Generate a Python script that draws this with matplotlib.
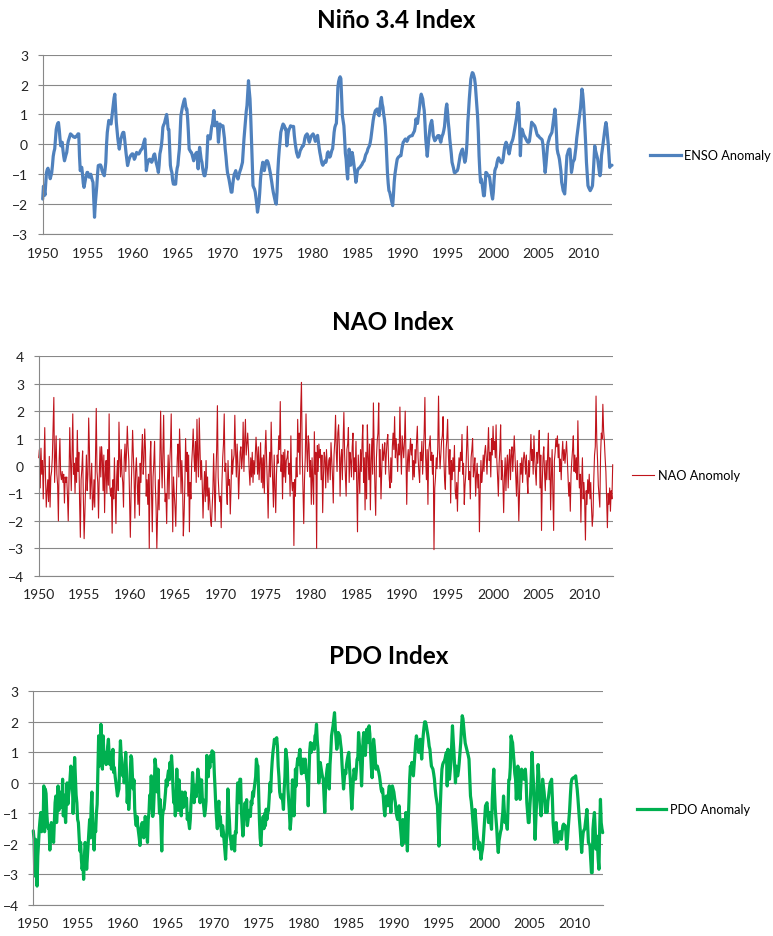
import matplotlib
matplotlib.use("Agg")
import matplotlib.pyplot as plt
from matplotlib.lines import Line2D
import numpy as np

plt.rcParams['font.family'] = ['Lato', 'DejaVu Sans']

# ---------------- data (monthly, Jan 1950 ... Mar 2013) ----------------
start_year = 1950
tick_years = list(range(1950, 2011, 5))

enso_rows = [
    [-1.83, -1.4, -1.55, -1.7, -1.3, -0.95, -0.85, -0.8, -0.9, -1.0, -1.15, -1.05],
    [-0.95, -0.7, -0.4, -0.25, -0.15, 0.2, 0.5, 0.62, 0.7, 0.73, 0.5, 0.2],
    [-0.05, 0.05, 0.07, -0.2, -0.4, -0.55, -0.45, -0.35, -0.27, -0.05, 0.1, 0.18],
    [0.25, 0.35, 0.33, 0.3, 0.28, 0.25, 0.24, 0.23, 0.25, 0.28, 0.3, 0.35],
    [0.35, -0.4, -0.88, -0.8, -0.77, -1.0, -1.3, -1.44, -1.3, -1.16, -1.05, -0.94],
    [-0.94, -1.05, -1.1, -1.05, -1.0, -1.1, -1.2, -1.27, -1.9, -2.44, -2.0, -1.72],
    [-1.4, -1.0, -0.71, -0.7, -0.69, -0.69, -0.75, -0.88, -0.95, -1.0, -1.05, -0.85],
    [-0.6, 0.0, 0.4, 0.6, 0.8, 0.75, 0.7, 0.68, 0.9, 1.1, 1.35, 1.55],
    [1.68, 1.2, 0.74, 0.46, 0.2, 0.0, -0.16, 0.0, 0.18, 0.25, 0.35, 0.4],
    [0.4, 0.2, -0.05, -0.3, -0.5, -0.71, -0.6, -0.5, -0.43, -0.38, -0.35, -0.32],
    [-0.32, -0.4, -0.5, -0.45, -0.35, -0.27, -0.3, -0.32, -0.32, -0.28, -0.22, -0.18],
    [-0.16, -0.1, 0.0, 0.1, 0.18, -0.3, -0.88, -0.7, -0.6, -0.55, -0.5, -0.5],
    [-0.55, -0.6, -0.55, -0.45, -0.35, -0.32, -0.45, -0.6, -0.7, -0.8, -0.94, -0.7],
    [-0.32, -0.2, -0.05, 0.2, 0.57, 0.65, 0.7, 0.8, 0.9, 1.0, 0.8, 0.5],
    [0.5, -0.1, -0.7, -0.85, -0.94, -1.2, -1.33, -1.33, -1.3, -1.33, -1.0, -0.8],
    [-0.7, -0.4, -0.16, 0.4, 0.96, 1.1, 1.24, 1.35, 1.45, 1.52, 1.35, 1.18],
    [1.18, 0.85, 0.4, -0.16, -0.2, -0.25, -0.27, -0.35, -0.45, -0.55, -0.45, -0.35],
    [-0.3, -0.27, -0.5, -0.82, -0.3, -0.1, -0.3, -0.5, -0.6, -0.8, -0.95, -1.05],
    [-1.05, -0.9, -0.77, -0.2, 0.29, 0.25, 0.2, 0.18, 0.4, 0.6, 0.68, 0.9],
    [1.13, 0.62, 0.65, 0.7, 0.74, 0.5, 0.07, 0.4, 0.68, 0.65, 0.63, 0.62],
    [0.62, 0.4, 0.2, -0.16, -0.4, -0.7, -0.94, -1.05, -1.16, -1.3, -1.45, -1.6],
    [-1.6, -1.35, -1.16, -1.0, -0.95, -0.88, -1.0, -1.1, -1.16, -1.05, -0.95, -0.88],
    [-0.8, -0.7, -0.6, -0.2, 0.18, 0.5, 0.85, 1.1, 1.3, 1.7, 2.13, 1.8],
    [1.52, 0.9, 0.18, -0.6, -1.38, -1.45, -1.5, -1.6, -1.8, -2.0, -2.27, -2.1],
    [-1.94, -1.6, -1.16, -0.9, -0.75, -0.6, -0.7, -0.88, -0.75, -0.6, -0.55, -0.55],
    [-0.6, -0.7, -0.82, -0.95, -1.1, -1.27, -1.45, -1.6, -1.72, -1.85, -1.95, -2.0],
    [-1.6, -0.94, -0.5, -0.16, 0.1, 0.4, 0.5, 0.6, 0.68, 0.65, 0.6, 0.51],
    [0.51, -0.05, 0.2, 0.4, 0.5, 0.55, 0.62, 0.6, 0.6, 0.6, 0.6, 0.3],
    [0.07, -0.1, -0.27, -0.35, -0.43, -0.4, -0.3, -0.2, -0.16, -0.1, -0.05, -0.05],
    [0.05, 0.2, 0.29, 0.32, 0.35, 0.3, 0.15, 0.07, 0.15, 0.25, 0.29, 0.32],
    [0.35, 0.3, 0.2, 0.1, 0.18, 0.25, 0.3, 0.1, -0.1, -0.27, -0.4, -0.55],
    [-0.65, -0.7, -0.65, -0.6, -0.55, -0.6, -0.5, -0.3, -0.25, -0.35, -0.43, -0.4],
    [-0.3, -0.2, -0.15, 0.1, 0.4, 0.57, 0.65, 0.7, 1.2, 1.9, 2.1, 2.2],
    [2.26, 2.2, 1.6, 0.96, 0.8, 0.62, 0.2, -0.3, -0.5, -0.9, -1.16, -0.6],
    [-0.16, -0.4, -0.7, -0.5, -0.27, -0.4, -0.6, -0.8, -1.0, -1.27, -1.1, -0.9],
    [-0.82, -0.8, -0.78, -0.75, -0.71, -0.68, -0.62, -0.58, -0.55, -0.45, -0.35, -0.3],
    [-0.25, -0.15, -0.1, -0.05, 0.05, 0.2, 0.4, 0.62, 0.8, 0.95, 1.05, 1.13],
    [1.15, 1.18, 1.18, 1.0, 0.96, 1.2, 1.45, 1.57, 1.35, 1.24, 1.0, 0.85],
    [0.6, 0.18, -0.4, -0.94, -1.3, -1.55, -1.6, -1.72, -1.85, -1.95, -2.05, -1.7],
    [-1.27, -1.0, -0.82, -0.65, -0.5, -0.45, -0.42, -0.4, -0.38, -0.38, -0.2, -0.05],
    [0.07, 0.1, 0.15, 0.18, 0.15, 0.1, 0.15, 0.23, 0.25, 0.27, 0.28, 0.29],
    [0.29, 0.35, 0.4, 0.45, 0.6, 0.85, 0.75, 0.7, 0.9, 1.1, 1.3, 1.55],
    [1.68, 1.6, 1.52, 1.3, 1.13, 0.7, 0.18, -0.1, -0.4, -0.1, 0.18, 0.4],
    [0.62, 0.72, 0.8, 0.6, 0.29, 0.2, 0.12, 0.15, 0.2, 0.25, 0.29, 0.25],
    [0.29, 0.15, 0.07, 0.2, 0.29, 0.35, 0.46, 0.6, 0.9, 1.2, 1.35, 1.1],
    [0.74, 0.5, 0.18, -0.05, -0.3, -0.6, -0.7, -0.8, -0.94, -0.95, -0.92, -0.9],
    [-0.88, -0.8, -0.65, -0.5, -0.35, -0.27, -0.2, -0.16, -0.3, -0.45, -0.6, -0.5],
    [-0.3, 0.1, 0.74, 1.1, 1.52, 1.85, 2.18, 2.3, 2.4, 2.38, 2.3, 2.2],
    [2.0, 1.63, 1.3, 0.96, 0.4, -0.38, -0.9, -1.27, -1.16, -1.3, -1.5, -1.72],
    [-1.72, -1.4, -0.94, -0.95, -1.0, -1.05, -1.05, -1.1, -1.3, -1.5, -1.7, -1.83],
    [-1.6, -1.2, -0.88, -0.8, -0.75, -0.6, -0.5, -0.45, -0.5, -0.55, -0.6, -0.62],
    [-0.6, -0.5, -0.3, -0.1, 0.0, 0.07, 0.0, -0.1, -0.2, -0.32, -0.2, -0.05],
    [0.05, 0.1, 0.18, 0.3, 0.45, 0.6, 0.74, 0.9, 1.15, 1.4, 1.2, 0.6],
    [-0.38, 0.2, 0.51, 0.45, 0.35, 0.29, 0.25, 0.2, 0.15, 0.1, 0.07, 0.07],
    [0.1, 0.3, 0.5, 0.74, 0.7, 0.68, 0.65, 0.62, 0.55, 0.45, 0.35, 0.29],
    [0.29, 0.25, 0.22, 0.2, 0.18, 0.15, 0.0, -0.3, -0.6, -0.94, -0.7, -0.4],
    [-0.1, 0.07, 0.15, 0.25, 0.3, 0.35, 0.4, 0.6, 0.8, 1.0, 1.18, 0.9],
    [0.4, -0.16, -0.3, -0.38, -0.5, -0.7, -0.9, -1.27, -1.4, -1.55, -1.6, -1.66],
    [-1.3, -0.8, -0.38, -0.3, -0.2, -0.16, -0.16, -0.5, -0.94, -0.8, -0.6, -0.55],
    [-0.5, -0.3, -0.1, 0.2, 0.4, 0.62, 0.8, 1.0, 1.2, 1.5, 1.85, 1.7],
    [1.4, 1.0, 0.51, 0.0, -0.6, -1.0, -1.38, -1.45, -1.5, -1.55, -1.5, -1.45],
    [-1.38, -1.0, -0.5, -0.05, -0.2, -0.3, -0.4, -0.5, -0.7, -0.9, -1.05, -0.9],
    [-0.38, -0.2, 0.0, 0.2, 0.4, 0.6, 0.73, 0.55, 0.29, 0.0, -0.4, -0.77],
    [-0.72, -0.7, -0.7],
]

nao_rows = [
    [0.3, 0.6, -0.8, 0.65, -0.3, 0.2, -1.2, 0.1, 1.4, -0.4, -1.5, -0.9],
    [-0.5, -1.3, 0.35, -1.5, -0.4, -0.2, 0.3, 1.4, 2.5, -0.6, 0.2, 1.1],
    [-0.3, -0.7, -2.0, 0.2, 1.0, -0.3, -0.5, -0.2, -0.6, -0.3, -1.35, -0.4],
    [-0.6, -0.4, -1.1, -2.0, -0.5, 1.4, 0.2, -0.9, 0.4, 1.9, -0.3, 0.1],
    [-1.0, 0.3, -0.6, 1.3, -0.2, 0.5, -1.3, -2.6, -0.5, -0.1, 0.55, -1.2],
    [-2.65, -1.7, -0.6, 0.4, -0.9, -0.3, 1.75, 0.6, -1.2, -0.5, 0.1, -1.6],
    [-1.3, -0.5, -1.5, 0.3, 2.1, -0.2, -0.6, -1.9, -0.3, 0.7, -0.4, 0.7],
    [0.3, -0.9, 0.4, -1.7, -0.3, 0.2, -1.0, 0.6, -0.7, 1.9, -0.8, -1.1],
    [-0.8, -2.45, -0.5, -1.2, 0.3, -1.0, -2.1, -0.4, 0.2, -0.9, 1.6, 0.3],
    [-0.4, 0.6, -0.3, -0.6, -1.5, 0.3, 0.8, -0.2, 0.5, 1.45, 0.7, 0.2],
    [-1.2, -2.6, -1.0, 0.2, 1.3, 0.4, -0.5, -1.9, -0.2, 0.3, -0.6, -1.4],
    [-0.4, -1.8, 0.1, -0.6, 0.5, 1.15, -0.3, 0.2, 1.35, 0.6, -1.1, -0.5],
    [-1.4, -0.3, -3.0, 0.2, 0.9, -1.0, -2.4, -0.4, 0.1, 0.9, -0.7, -1.5],
    [-3.0, -1.8, -0.5, -1.6, 0.3, 2.0, 0.2, -0.8, 0.6, 1.85, -0.3, -1.3],
    [-1.0, -2.1, -0.5, 0.4, -1.2, 0.1, 0.7, 1.9, -0.6, -2.4, -0.4, -1.0],
    [-1.5, -2.2, -0.8, 0.3, 0.8, -0.4, 1.35, 0.5, -1.0, 0.2, -0.6, -2.55],
    [-1.8, -0.7, 1.0, -0.2, 0.5, -1.1, 0.4, -2.4, -0.6, -1.2, 0.1, 0.6],
    [1.35, 0.4, -0.2, 0.9, -0.6, 1.7, 0.3, -0.4, 1.75, 0.6, -0.5, 0.2],
    [-0.7, -1.9, -0.9, -0.2, -1.3, 0.2, -1.1, -0.4, -1.6, -0.8, -1.3, -2.0],
    [-2.2, -1.5, -0.9, 0.45, -0.7, -2.0, -0.3, 0.6, 2.2, -0.4, -1.0, -1.3],
    [-1.1, -2.25, -0.6, 0.3, 0.8, 1.9, -0.2, 0.1, -0.9, -1.4, 0.2, -0.7],
    [-0.5, -1.75, -0.8, 0.6, -0.3, 0.2, 0.4, 1.85, 0.5, -0.4, 0.8, 0.1],
    [-1.2, -0.3, 0.5, 0.7, -0.1, 0.3, 1.6, -0.2, 0.9, 1.7, 0.4, 0.8],
    [1.2, 0.6, -0.2, -0.7, 0.3, -0.4, 0.5, -0.6, 0.2, -0.3, 0.4, 1.05],
    [0.5, -0.3, 0.7, -0.5, 0.1, 0.85, -0.6, 0.3, -0.8, 0.4, -1.0, 0.6],
    [1.3, 0.2, -0.7, -1.9, -0.3, 0.5, -0.4, 1.6, 0.3, -0.6, -1.5, 0.4],
    [-0.8, -1.7, -0.3, 0.4, 0.1, 1.1, 0.6, 2.35, -0.2, 0.4, -1.2, 0.5],
    [-0.4, 0.6, -0.6, 0.2, 0.3, 0.55, -0.3, 0.1, -1.1, 1.1, -0.5, -0.9],
    [-0.6, -2.9, -0.5, -1.1, 0.3, -0.4, 1.7, 0.5, 1.2, -0.3, 2.1, 3.05],
    [0.4, -0.9, -2.1, -0.5, 0.3, 1.9, 0.6, -0.2, 1.1, 0.8, -0.4, 0.2],
    [-1.4, 0.3, -0.6, -1.4, 1.25, -0.3, 0.5, -3.0, 0.75, -0.2, 0.8, 0.3],
    [0.6, -0.5, 0.4, -1.7, -0.4, 0.5, 0.3, -0.8, 0.6, 0.0, -0.6, 0.2],
    [0.3, -0.5, 0.85, 0.2, -0.4, -1.35, 0.4, 0.9, 1.85, 0.5, -0.2, 1.2],
    [1.5, 0.7, -1.1, 0.3, 0.6, -0.5, 0.9, 1.95, 0.4, -0.3, -1.1, 0.6],
    [0.8, 1.4, -0.6, 0.5, 0.2, -0.4, 0.7, 1.2, -0.5, 0.3, -0.2, 0.9],
    [-0.7, -2.4, 0.4, -0.3, -1.0, 0.6, -0.2, 0.8, 1.5, -0.6, 0.3, -1.6],
    [0.5, -1.2, 1.5, 0.4, -0.5, 0.8, -1.6, 0.2, 1.0, -0.3, 2.3, 0.6],
    [-0.8, -1.8, 0.3, 0.9, 1.2, 2.3, -0.4, 0.6, -1.2, -0.2, 0.8, 0.2],
    [0.5, 0.85, -0.3, 0.4, 0.9, 1.15, 0.2, -0.5, -0.8, 0.3, -0.6, 0.7],
    [1.2, 0.6, 1.8, 0.3, 1.0, 0.5, -0.2, 0.8, 0.4, 2.15, 0.6, -0.3],
    [1.1, 0.7, 0.3, 0.9, 2.0, 0.4, -1.4, 0.2, 0.6, -0.2, 0.5, 1.0],
    [0.4, 0.8, -0.5, 0.2, -0.4, 0.6, 0.1, 0.9, 1.45, 0.3, -0.2, -0.6],
    [0.5, 0.2, 0.9, -0.3, 0.4, 1.2, 2.5, 0.3, -0.5, 0.6, -1.4, 0.5],
    [0.8, 1.1, 0.2, 0.5, -0.3, 0.4, -3.05, -0.8, -0.4, 0.3, -0.1, 0.7],
    [2.55, 0.6, -0.1, 0.4, 0.9, 1.1, 1.8, 0.3, -0.5, -0.85, 0.6, 1.0],
    [1.7, 0.4, -0.3, 0.6, -1.35, 0.2, -0.5, 0.3, -0.2, 0.75, -0.9, -1.2],
    [-0.6, -1.65, -0.4, 0.3, -0.2, 0.5, 0.2, 1.15, -0.3, 0.1, -1.4, -0.7],
    [-0.3, 0.6, 1.45, 0.4, -0.5, -0.2, -1.2, 0.3, 0.6, 1.0, -0.4, -0.1],
    [0.3, -1.1, -0.4, 0.1, -0.8, -0.3, -2.4, -0.9, 0.2, -0.6, -0.25, 0.4],
    [-0.2, 0.5, 0.75, 0.3, -0.3, 0.6, 1.4, 0.2, 0.5, -0.4, 1.0, 0.4],
    [1.45, 0.6, 0.9, 0.3, 1.5, 0.2, -0.4, -1.1, 0.1, 0.6, 1.5, -0.5],
    [0.2, -0.6, -1.7, -0.4, 0.3, -0.9, 0.0, 0.4, -0.8, 0.2, 0.6, -0.5],
    [0.4, 0.7, -0.2, 0.5, 1.1, 0.3, -0.4, -1.1, 0.2, -0.7, -2.0, -0.9],
    [0.1, -0.3, 0.3, -0.6, 0.2, 0.5, 0.25, -0.3, 0.4, -0.5, -1.0, 0.2],
    [-0.4, 0.4, 1.15, 0.2, 0.6, -0.3, 1.1, 0.3, -0.2, -0.7, 0.5, 0.1],
    [0.6, 1.3, -0.8, 0.4, -2.35, -0.6, 0.3, 0.7, -0.25, -0.9, 0.2, -0.5],
    [0.4, 1.2, -0.5, 0.3, -1.6, -0.4, 0.6, -1.0, -2.35, 0.2, 0.5, 1.0],
    [0.7, 1.1, 0.3, 0.8, -0.2, 0.25, -0.5, 0.4, 0.9, 0.2, 0.6, 0.1],
    [0.5, 0.9, 0.3, -0.4, -1.1, -0.6, -1.65, -0.3, 0.2, 0.6, 1.1, -0.2],
    [0.4, -0.25, 0.3, -0.5, 1.65, 0.2, -0.8, -0.3, -2.05, -0.6, 0.3, -1.2],
    [-0.6, -1.3, -2.7, -0.9, -1.4, -0.5, -1.0, -0.3, -1.2, -0.6, -1.5, -2.2],
    [-1.8, -0.5, 0.4, 0.7, 2.55, 0.9, 0.2, -0.7, -1.1, -1.5, 0.4, 1.2],
    [1.0, 2.25, 1.3, 0.9, 0.3, -0.2, -1.2, -2.25, -1.0, -1.4, -0.8, -1.65],
    [-0.9, -1.2, 0.05],
]

pdo_rows = [
    [-1.57, -1.85, -3.05, -1.85, -2.6, -3.38, -2.4, -1.95, -1.5, -1.2, -0.97, -1.6],
    [-1.5, -1.4, -0.1, -1.6, -0.2, -0.35, -1.0, -1.4, -1.5, -1.4, -2.2, -1.6],
    [-1.3, -1.5, -1.7, -1.95, -1.3, -0.65, -0.43, -1.3, -0.9, -0.1, -0.9, -0.6],
    [-0.5, -0.3, -0.8, 0.12, -1.08, -0.4, -0.9, -1.3, -0.6, 0.0, -0.7, -0.4],
    [-0.2, 0.2, 0.55, -0.1, 0.1, -1.0, -0.3, 0.83, 0.2, -0.4, -0.65, -1.2],
    [-1.3, -1.8, -2.23, -1.95, -2.5, -2.83, -2.6, -3.16, -2.4, -1.95, -2.2, -2.83],
    [-2.4, -2.0, -1.6, -1.2, -1.8, -0.8, -0.3, -1.2, -1.8, -2.2, -1.4, -1.6],
    [-1.0, -0.7, 0.5, 1.54, 0.55, 1.2, 1.92, 1.3, 0.45, 1.54, 0.9, 0.67],
    [1.0, 0.6, 0.8, 1.2, 1.43, 0.9, 0.6, 1.0, 0.45, 0.7, 1.1, 0.34],
    [0.5, 0.2, 0.0, -0.2, -0.43, -0.3, -0.2, 0.6, 1.38, 0.9, 0.67, 0.23],
    [0.5, 0.0, 0.3, 1.0, 0.4, -0.65, -0.2, -0.87, -0.5, 0.3, 0.89, 0.8],
    [0.2, -0.2, 0.1, -0.86, -1.2, -1.4, -1.1, -1.4, -1.6, -1.8, -2.05, -1.6],
    [-1.4, -1.3, -1.5, -1.8, -1.4, -1.1, -1.3, -1.6, -1.95, -1.2, -0.97, -0.4],
    [-0.6, 0.23, -0.65, -1.1, -0.9, -0.3, 0.78, 0.55, 0.0, -0.3, 0.45, -0.4],
    [-1.0, -0.55, -1.4, -2.23, -1.1, -0.9, -0.86, -0.6, -0.3, 0.1, -0.1, 0.23],
    [0.4, 0.1, 0.67, 0.3, 0.89, 0.5, -0.2, -0.65, -0.4, -1.08, -0.7, 0.45],
    [-0.3, -0.9, 0.1, -0.4, -0.7, -1.08, -0.3, -0.5, -0.8, -0.4, -0.3, -0.6],
    [-0.5, -1.2, -1.0, -1.3, -1.5, -1.2, -0.65, -0.3, 0.34, -0.1, -0.65, -0.2],
    [-0.1, -0.45, 0.0, 0.45, 0.2, 0.1, -0.65, -0.3, 0.1, -0.5, -0.55, -0.8],
    [-1.08, -0.9, -0.6, 0.9, 0.45, 0.2, 0.78, 0.5, 0.9, 0.7, 1.05, 0.95],
    [1.0, 0.3, -0.2, -0.8, -1.2, -1.5, -0.9, -0.6, -1.4, -1.1, -1.5, -1.74],
    [-1.4, -1.6, -1.9, -2.2, -2.5, -1.9, -1.5, -0.2, -0.75, -1.2, -1.74, -1.9],
    [-2.17, -1.8, -1.74, -2.0, -2.23, -1.6, -1.65, -0.8, 0.0, -0.3, -0.65, 0.12],
    [0.12, -0.9, -1.3, -1.74, -1.4, -1.0, -0.65, -1.1, -0.55, -1.4, -1.2, -0.9],
    [-1.0, -1.1, -0.6, -0.7, -0.3, -0.45, -0.2, 0.0, 0.2, 0.78, 0.6, 0.55],
    [-0.3, -1.2, -1.8, -2.05, -1.5, -1.4, -1.1, -1.5, -1.0, -1.4, -0.86, -1.2],
    [-1.0, -0.9, -0.5, 0.0, -0.3, 0.3, 0.7, 1.0, 1.2, 1.43, 1.3, 1.35],
    [1.48, 1.2, 0.55, 0.2, -0.3, -0.45, -0.5, -0.4, -0.6, -0.87, -0.2, 0.2],
    [1.1, 0.9, 0.7, -0.2, -0.6, -1.0, -1.52, -1.2, -0.65, 0.1, -0.3, -1.08],
    [-0.5, 0.45, -0.1, 0.55, 0.8, 0.6, 0.95, 1.1, 0.55, 0.3, 0.34, 0.78],
    [0.34, 0.5, 0.78, 0.4, 0.12, 0.0, -0.75, 0.3, 1.05, 1.32, 1.0, 1.2],
    [1.2, 1.3, 1.1, 1.54, 1.6, 1.92, 1.4, 1.1, 0.0, 0.3, 0.67, 0.5],
    [0.34, 0.2, 0.12, -0.4, -0.97, -0.2, 0.2, 0.45, 0.6, 0.3, -0.2, 0.6],
    [1.0, 1.54, 1.7, 1.87, 2.1, 2.3, 1.8, 1.43, 1.1, 1.3, 1.65, 1.6],
    [1.54, 1.3, 1.1, 0.6, 0.2, -0.2, 0.1, 0.4, 0.3, 0.6, 0.77, 0.9],
    [1.0, 0.5, 0.1, -0.4, -0.86, -0.43, 0.1, 0.45, 0.3, 0.12, 0.4, 0.78],
    [0.78, 1.65, 1.3, 1.1, 0.5, -0.1, 0.6, 1.43, 1.65, 1.3, 0.9, 1.3],
    [1.76, 1.5, 1.32, 1.87, 1.6, 1.0, 0.5, 0.17, 0.9, 1.43, 1.2, 0.9],
    [0.45, 0.5, 0.55, 0.45, 0.34, 0.2, 0.0, -0.2, -0.3, -0.2, -0.5, -0.87],
    [-1.08, -0.7, -0.43, -0.6, -0.75, -0.3, -0.1, -0.6, -0.97, -0.5, -0.1, -0.2],
    [-0.3, -0.5, -0.65, -0.97, -1.1, -1.2, -0.9, -0.75, -1.2, -1.52, -1.8, -2.05],
    [-1.2, -1.6, -1.95, -1.5, -0.97, -1.6, -2.23, -1.3, -0.65, 0.1, 0.55, 0.34],
    [0.67, 0.5, 0.23, 0.6, 1.0, 1.3, 1.54, 1.4, 1.32, 1.0, 1.2, 1.43],
    [1.2, 0.78, 1.2, 1.54, 1.8, 2.0, 2.0, 1.9, 1.76, 1.6, 1.43, 1.2],
    [1.1, 0.8, 0.55, 0.5, 0.45, 0.3, 0.12, -0.2, -0.43, -0.6, -0.75, -1.4],
    [-2.07, -1.3, -0.65, 0.0, 0.45, 0.6, 0.67, 0.7, 0.78, 0.9, 1.0, -0.1],
    [1.1, 0.6, 0.12, 0.4, 0.67, 1.3, 1.87, 1.4, 1.0, 0.5, 0.0, 0.55],
    [0.3, 0.23, 0.4, 0.67, 1.0, 1.32, 1.8, 2.2, 2.1, 1.8, 1.54, 1.3],
    [1.2, 1.1, 1.0, 0.9, 0.78, 0.2, -0.43, -0.6, -0.87, -1.2, -1.52, -2.17],
    [-0.87, -1.2, -1.52, -1.74, -1.9, -2.17, -1.95, -2.2, -2.5, -2.3, -2.17, -1.9],
    [-1.52, -1.1, -0.75, -0.7, -0.65, -1.0, -1.3, -1.1, -0.97, -1.3, -1.52, -0.54],
    [0.0, 0.45, -0.3, -0.87, -1.2, -1.52, -2.0, -2.28, -1.9, -1.74, -1.6, -1.52],
    [-1.2, -0.97, -0.43, -0.9, -1.3, -1.2, -1.3, -1.52, -0.8, 0.1, 0.12, 0.5],
    [1.54, 1.4, 1.32, 1.0, 0.67, 0.3, 0.12, -0.54, 0.0, 0.55, 0.3, 0.12],
    [-0.54, -0.1, 0.45, 0.3, 0.23, 0.12, 0.3, 0.45, 0.1, -0.65, -1.0, -1.3],
    [-1.3, -0.8, -0.4, 0.3, 1.0, 0.4, -0.1, -1.0, -1.85, -1.2, -0.65, 0.0],
    [0.6, 0.2, -0.43, -0.8, -1.08, -0.5, 0.12, -0.1, -0.3, -0.6, -0.97, -0.9],
    [-0.97, -0.6, -0.43, -0.2, 0.0, 0.05, 0.12, -0.5, -1.3, -1.6, -1.95, -1.6],
    [-1.3, -1.6, -1.95, -1.8, -1.63, -1.6, -1.7, -1.85, -1.6, -1.4, -1.35, -1.4],
    [-1.4, -1.6, -2.17, -1.9, -1.52, -1.2, -0.87, -0.4, 0.0, 0.12, 0.15, 0.17],
    [0.17, 0.2, 0.23, 0.0, -0.2, -0.5, -0.87, -1.2, -1.52, -1.9, -2.28, -1.9],
    [-1.63, -1.55, -1.52, -1.3, -1.1, -0.87, -1.4, -1.95, -2.0, -2.05, -2.5, -2.94],
    [-2.94, -1.52, -1.2, -0.97, -1.5, -2.17, -1.74, -2.0, -2.5, -2.83, -1.5, -0.54],
    [-1.3, -1.5, -1.63],
]

titles = ["Niño 3.4 Index", "NAO Index", "PDO Index"]
legend_labels = ["ENSO Anomaly", "NAO Anomoly", "PDO Anomaly"]


def flat(rows):
    return np.array([v for r in rows for v in r], dtype=float)


series = [flat(enso_rows), flat(nao_rows), flat(pdo_rows)]
n_max = max(len(s) for s in series)
x_end = start_year + (n_max - 1) / 12.0

# ---------------- layout ----------------
W, H = 773, 937
fig = plt.figure(figsize=(W / 100, H / 100), dpi=100)

# (left, right, top, bottom) in pixels
rects_px = [(42.7, 612.0, 55.7, 235.0),
            (38.7, 612.7, 357.3, 576.7),
            (33.3, 602.7, 692.3, 906.0)]
ylims = [(-3, 3), (-4, 4), (-4, 3)]
colors = ["#4F81BD", "#C0141C", "#00B050"]
lws = [2.3, 0.8, 2.3]
title_pos = [(396, 21), (393, 322), (389, 657)]
legend_pos = [(650, 156, 2.4), (632, 476, 1.7), (637, 810, 2.25)]
grid_c = "#888888"

for i in range(3):
    l, r, t, b = rects_px[i]
    ax = fig.add_axes([l / W, 1 - b / H, (r - l) / W, (b - t) / H])
    y = series[i]
    x = start_year + np.arange(len(y)) / 12.0
    ax.plot(x, y, color=colors[i], lw=lws[i], solid_joinstyle="round",
            solid_capstyle="round", clip_on=False)
    lo, hi = ylims[i]
    ax.set_xlim(start_year, x_end)
    ax.set_ylim(lo, hi)
    ax.set_yticks(range(lo, hi + 1))
    ax.set_xticks(tick_years)
    ax.set_xticklabels([str(v) for v in tick_years])
    ax.grid(axis="y", color=grid_c, lw=0.8)
    ax.set_axisbelow(True)
    for s in ["top", "right"]:
        ax.spines[s].set_visible(False)
    for s in ["left", "bottom"]:
        ax.spines[s].set_color(grid_c)
        ax.spines[s].set_linewidth(0.8)
    ax.tick_params(axis="y", length=3.5, width=0.8, color=grid_c, pad=7,
                   labelsize=10, labelcolor="#222222")
    ax.tick_params(axis="x", length=0, pad=9, labelsize=10, labelcolor="#222222")

    tx, ty = title_pos[i]
    fig.text(tx / W, 1 - ty / H, titles[i], ha="center", va="center",
             fontsize=17.5, fontweight="bold", color="#000000")

    lx, ly, hl = legend_pos[i]
    h = Line2D([], [], color=colors[i], lw=lws[i])
    fig.legend([h], [legend_labels[i]], loc="center left",
               bbox_to_anchor=(lx / W, 1 - ly / H), frameon=False,
               fontsize=9.2, handlelength=hl, handletextpad=0.3,
               borderpad=0, borderaxespad=0)

fig.savefig("out.png", dpi=100)
